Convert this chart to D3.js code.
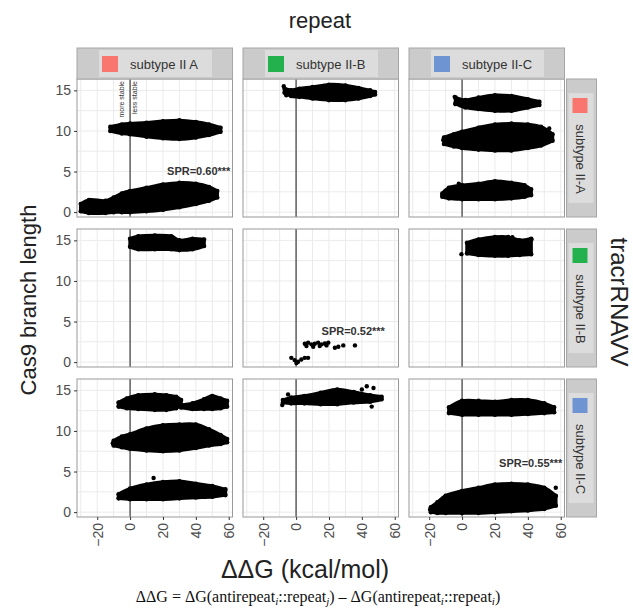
<!DOCTYPE html>
<html>
<head>
<meta charset="utf-8">
<script src="https://cdn.jsdelivr.net/npm/d3@7.9.0/dist/d3.min.js"></script>
<style>
  body { margin: 0; background: #fff; }
  text { font-family: "Liberation Sans", Arial, sans-serif; }
</style>
</head>
<body>
<svg id="chart" width="633" height="612"></svg>
<script>
// facet labels
const colLabels = ['subtype II A', 'subtype II-B', 'subtype II-C'];
const rowLabels = ['subtype II-A', 'subtype II-B', 'subtype II-C'];
const subtypeColors = ['#f8766d', '#22b14c', '#6f94d2'];
const xTicks = [-20, 0, 20, 40, 60];
const yTicks = [0, 5, 10, 15];

// point clouds as [ddG, low length, high length] envelopes
// first letter = tracrRNA row, second = repeat column
const aa_band10 = [[-12, 10.0, 10.5], [-5, 9.7, 10.8], [0, 9.6, 10.9], [10, 9.3, 11.0], [20, 9.1, 11.2], [30, 9.0, 11.3], [40, 9.2, 11.1], [48, 9.5, 10.8], [55, 9.9, 10.4]];
const aa_band1 = [[-30, 0.1, 1.0], [-25, -0.1, 1.5], [-15, -0.1, 1.4], [-10, 0.0, 1.8], [-5, 0.0, 2.3], [0, 0.0, 2.6], [10, 0.1, 3.0], [20, 0.3, 3.4], [30, 0.6, 3.6], [40, 1.0, 3.5], [48, 1.4, 3.1], [53, 1.8, 2.6]];
const ab_band15 = [[-7, 14.7, 15.2], [-3, 14.3, 15.0], [2, 14.2, 15.2], [10, 14.0, 15.4], [20, 13.8, 15.7], [30, 13.8, 15.6], [38, 14.0, 15.3], [45, 14.3, 15.0], [48, 14.5, 14.8]];
const ac_band13 = [[-4, 13.4, 14.1], [2, 12.9, 13.8], [10, 12.7, 14.1], [20, 12.5, 14.4], [30, 12.5, 14.3], [40, 12.9, 13.9], [47, 13.2, 13.6]];
const ac_band9 = [[-11, 8.4, 9.2], [-5, 8.1, 9.6], [0, 7.9, 9.9], [10, 7.7, 10.4], [20, 7.6, 10.8], [30, 7.6, 10.9], [40, 7.9, 10.8], [48, 8.2, 10.5], [55, 8.8, 9.6]];
const ac_band2 = [[-12, 1.9, 2.3], [-8, 1.7, 3.0], [0, 1.6, 3.3], [10, 1.6, 3.5], [20, 1.6, 3.8], [30, 1.7, 3.6], [38, 1.9, 3.3], [42, 2.1, 2.8]];
const ba_band14 = [[0, 14.2, 15.2], [5, 13.9, 15.5], [15, 13.9, 15.6], [25, 13.9, 15.5], [30, 13.8, 15.0], [38, 13.9, 15.2], [45, 14.3, 15.1]];
const bb_points = [[5.3, 2.27], [7.3, 2.4], [9.4, 2.19], [11.4, 2.27], [13.4, 2.4], [15.5, 2.19], [17.5, 2.3], [19.6, 2.4], [6.3, 1.98], [10.4, 1.9], [14.4, 1.98], [18.5, 2.06], [23.6, 1.77], [25.7, 1.9], [28.7, 2.06], [35.8, 2.06], [-2.9, 0.53], [-0.9, 0.25], [1.2, 0.04], [3.2, 0.33], [5.3, 0.53], [7.3, 0.53], [0.2, -0.1]];
const bc_band14 = [[3, 13.4, 14.7], [10, 13.2, 15.1], [20, 13.1, 15.4], [28, 13.1, 15.4], [35, 13.2, 15.0], [42, 13.3, 15.2]];
const ca_band13a = [[-7, 13.0, 13.5], [-2, 12.8, 14.0], [5, 12.7, 14.4], [15, 12.6, 14.5], [22, 12.6, 14.4], [28, 12.8, 14.2], [31, 13.2, 13.8]];
const ca_band13b = [[31, 12.9, 13.2], [38, 12.7, 13.4], [45, 12.7, 13.9], [50, 12.7, 14.3], [55, 12.8, 14.0], [59, 13.0, 13.7]];
const ca_band9 = [[-10, 8.2, 8.8], [-5, 8.0, 9.3], [0, 7.8, 9.6], [10, 7.6, 10.3], [20, 7.5, 10.7], [30, 7.6, 10.8], [40, 7.9, 10.8], [48, 8.2, 10.2], [55, 8.4, 9.5], [59, 8.6, 9.0]];
const ca_band2 = [[-7, 1.7, 2.2], [0, 1.6, 2.9], [10, 1.6, 3.4], [20, 1.6, 3.7], [30, 1.7, 3.8], [40, 1.8, 3.5], [50, 1.9, 3.2], [58, 2.1, 2.8]];
const cb_band14 = [[-8, 13.5, 13.8], [-3, 13.4, 14.1], [5, 13.4, 14.3], [15, 13.3, 14.7], [25, 13.3, 15.1], [35, 13.5, 14.8], [45, 13.6, 14.4], [52, 13.9, 14.2]];
const cc_band12 = [[-8, 12.2, 12.9], [0, 12.0, 13.7], [10, 12.0, 13.7], [20, 12.0, 13.6], [30, 12.0, 13.8], [40, 12.1, 13.8], [50, 12.2, 13.4], [56, 12.3, 12.9]];
const cc_band1 = [[-19, 0.0, 0.6], [-15, -0.1, 1.2], [-10, -0.1, 2.0], [0, -0.1, 2.6], [10, -0.1, 3.0], [20, 0.0, 3.4], [30, 0.1, 3.5], [40, 0.2, 3.4], [50, 0.4, 3.0], [57, 0.8, 2.0]];

// loose points outside the dense bands
const ab_out = [[-7.5, 15.5], [-6, 14.4]];
const ac_out = [[-4.5, 14.2], [-4, 13.3], [-11.5, 8.9], [-12, 2.1], [53, 10.3], [-2, 3.5]];
const bc_out = [[-0.4, 13.3], [42.2, 15.1], [30.6, 15.4]];
const ca_out = [[14.3, 4.2], [-10.5, 8.5], [58.5, 13.2]];
const cb_out = [[43, 15.5], [47.1, 15.3], [40, 15.1], [-4.9, 14.5], [-8.4, 13.2], [46, 13.0]];
const cc_out = [[-19.5, 0.3], [57, 3.0]];

const sprText = ['SPR=0.60***', 'SPR=0.52***', 'SPR=0.55***'];

const panels = [
  { r: 0, c: 0, bands: [aa_band10, aa_band1], pts: [], spr: sprText[0], sprAt: [61, 4.6] },
  { r: 0, c: 1, bands: [ab_band15], pts: ab_out },
  { r: 0, c: 2, bands: [ac_band13, ac_band9, ac_band2], pts: ac_out },
  { r: 1, c: 0, bands: [ba_band14], pts: [] },
  { r: 1, c: 1, bands: [], pts: bb_points, spr: sprText[1], sprAt: [54, 3.3] },
  { r: 1, c: 2, bands: [bc_band14], pts: bc_out },
  { r: 2, c: 0, bands: [ca_band13a, ca_band13b, ca_band9, ca_band2], pts: ca_out },
  { r: 2, c: 1, bands: [cb_band14], pts: cb_out },
  { r: 2, c: 2, bands: [cc_band12, cc_band1], pts: cc_out, spr: sprText[2], sprAt: [61, 5.6] }
];

const svg = d3.select('#chart');
const colX = [77, 243, 409], rowY = [79, 229, 379];
const pw = 155.5, ph = 138, stripH = 31, stripW = 30;

const x = d3.scaleLinear().domain([-32.3, 62.3]).range([0, pw]);
const y = d3.scaleLinear().domain([-0.6, 16.4]).range([ph, 0]);

const area = d3.area()
  .x(d => x(d[0]))
  .y0(d => y(d[1]))
  .y1(d => y(d[2]))
  .curve(d3.curveCatmullRom);

panels.forEach(p => {
  const g = svg.append('g').attr('transform', `translate(${colX[p.c]},${rowY[p.r]})`);
  g.append('rect').attr('width', pw).attr('height', ph).attr('fill', '#fff');

  // grid: minor then major
  const minorX = [-30, -10, 10, 30, 50], minorY = [2.5, 7.5, 12.5];
  g.selectAll('.gx').data(minorX.concat(xTicks)).enter().append('line')
    .attr('x1', d => x(d)).attr('x2', d => x(d)).attr('y1', 0).attr('y2', ph)
    .attr('stroke', '#ebebeb').attr('stroke-width', 1);
  g.selectAll('.gy').data(minorY.concat(yTicks)).enter().append('line')
    .attr('y1', d => y(d)).attr('y2', d => y(d)).attr('x1', 0).attr('x2', pw)
    .attr('stroke', '#ebebeb').attr('stroke-width', 1);

  // zero line
  g.append('line').attr('x1', x(0)).attr('x2', x(0)).attr('y1', 0).attr('y2', ph)
    .attr('stroke', '#555').attr('stroke-width', 1.4);

  p.bands.forEach(b => {
    g.append('path').datum(b).attr('d', area)
      .attr('fill', '#000').attr('stroke', '#000').attr('stroke-width', 3.5)
      .attr('stroke-linejoin', 'round');
    // edge dots to give the cloud its bumpy outline
    g.selectAll(null).data(b.flatMap(d => [[d[0], d[1]], [d[0], d[2]]])).enter().append('circle')
      .attr('cx', d => x(d[0])).attr('cy', d => y(d[1])).attr('r', 2.3).attr('fill', '#000');
  });
  g.selectAll(null).data(p.pts).enter().append('circle')
    .attr('cx', d => x(d[0])).attr('cy', d => y(d[1])).attr('r', 2.2).attr('fill', '#000');

  if (p.spr) {
    g.append('text').attr('x', x(p.sprAt[0])).attr('y', y(p.sprAt[1]))
      .attr('text-anchor', 'end').attr('font-size', 11).attr('font-weight', 'bold')
      .attr('fill', '#333').text(p.spr);
  }
  if (p.r === 0 && p.c === 0) {
    [['more stable', -4], ['less stable', 4.5]].forEach(([t, dx]) => {
      g.append('text').attr('transform', `translate(${x(dx)},2) rotate(-90)`)
        .attr('text-anchor', 'end').attr('font-size', 7).attr('fill', '#333').text(t);
    });
  }

  g.append('rect').attr('width', pw).attr('height', ph).attr('fill', 'none')
    .attr('stroke', '#999').attr('stroke-width', 1);
});

// left axes
rowY.forEach(ry => {
  const g = svg.append('g').attr('transform', `translate(${colX[0]},${ry})`);
  g.call(d3.axisLeft(y).tickValues(yTicks).tickSize(3).tickPadding(3));
  g.select('.domain').remove();
  g.selectAll('line').attr('stroke', '#333');
  g.selectAll('text').attr('font-size', 14).attr('fill', '#4d4d4d').attr('font-family', 'Liberation Sans');
});
// bottom axes
colX.forEach(cx => {
  const g = svg.append('g').attr('transform', `translate(${cx},${rowY[2] + ph})`);
  g.call(d3.axisBottom(x).tickValues(xTicks).tickSize(3).tickPadding(3));
  g.select('.domain').remove();
  g.selectAll('line').attr('stroke', '#333');
  g.selectAll('text').attr('font-size', 14).attr('fill', '#4d4d4d').attr('font-family', 'Liberation Sans')
    .attr('transform', 'rotate(-90)').attr('text-anchor', 'end').attr('dy', '0.35em')
    .attr('x', -6).attr('y', 0);
});

// top strips
colX.forEach((cx, i) => {
  const g = svg.append('g').attr('transform', `translate(${cx},${rowY[0] - stripH})`);
  g.append('rect').attr('width', pw).attr('height', stripH).attr('fill', '#cbcbcb')
    .attr('stroke', '#a6a6a6');
  g.append('rect').attr('x', 22).attr('y', 2).attr('width', 113).attr('height', stripH - 4).attr('fill', '#dcdcdc');
  g.append('rect').attr('x', 25).attr('y', 8).attr('width', 16).attr('height', 16).attr('fill', subtypeColors[i]);
  g.append('text').attr('x', 53).attr('y', 21).attr('font-size', 13)
    .attr('font-family', 'Noto Sans').attr('fill', '#333').text(colLabels[i]);
});
// right strips
rowY.forEach((ry, i) => {
  const g = svg.append('g').attr('transform', `translate(${colX[2] + pw + 2},${ry})`);
  g.append('rect').attr('width', stripW).attr('height', ph).attr('fill', '#cbcbcb')
    .attr('stroke', '#a6a6a6');
  g.append('rect').attr('x', 2).attr('y', 14).attr('width', stripW - 5).attr('height', 110).attr('fill', '#dcdcdc');
  g.append('rect').attr('x', 6).attr('y', 19).attr('width', 15).attr('height', 15).attr('fill', subtypeColors[i]);
  g.append('text').attr('transform', `translate(${9.5},${80}) rotate(90)`)
    .attr('text-anchor', 'middle').attr('font-size', 13)
    .attr('font-family', 'Noto Sans').attr('fill', '#333').text(rowLabels[i]);
});

// titles
svg.append('text').attr('x', 320).attr('y', 28).attr('text-anchor', 'middle')
  .attr('font-size', 22).attr('fill', '#222').text('repeat');
svg.append('text').attr('transform', 'translate(36,300) rotate(-90)').attr('text-anchor', 'middle')
  .attr('font-size', 22).attr('fill', '#222').text('Cas9 branch length');
svg.append('text').attr('transform', 'translate(611,302) rotate(90)').attr('text-anchor', 'middle')
  .attr('font-size', 24).attr('fill', '#222').text('tracrRNAVV');
svg.append('text').attr('x', 305).attr('y', 578).attr('text-anchor', 'middle')
  .attr('font-size', 25).attr('fill', '#222').text('ΔΔG (kcal/mol)');

// footer formula
const foot = svg.append('text').attr('x', 318).attr('y', 602).attr('text-anchor', 'middle')
  .attr('font-size', 16).attr('fill', '#111').style('font-family', '"Liberation Serif", serif');
foot.append('tspan').text('ΔΔG = ΔG(antirepeat');
foot.append('tspan').attr('font-size', 11).attr('font-style', 'italic').attr('dy', 3).text('i');
foot.append('tspan').attr('dy', -3).text('::repeat');
foot.append('tspan').attr('font-size', 11).attr('font-style', 'italic').attr('dy', 3).text('j');
foot.append('tspan').attr('dy', -3).text(') – ΔG(antirepeat');
foot.append('tspan').attr('font-size', 11).attr('font-style', 'italic').attr('dy', 3).text('i');
foot.append('tspan').attr('dy', -3).text('::repeat');
foot.append('tspan').attr('font-size', 11).attr('font-style', 'italic').attr('dy', 3).text('i');
foot.append('tspan').attr('dy', -3).text(')');
</script>
</body>
</html>
